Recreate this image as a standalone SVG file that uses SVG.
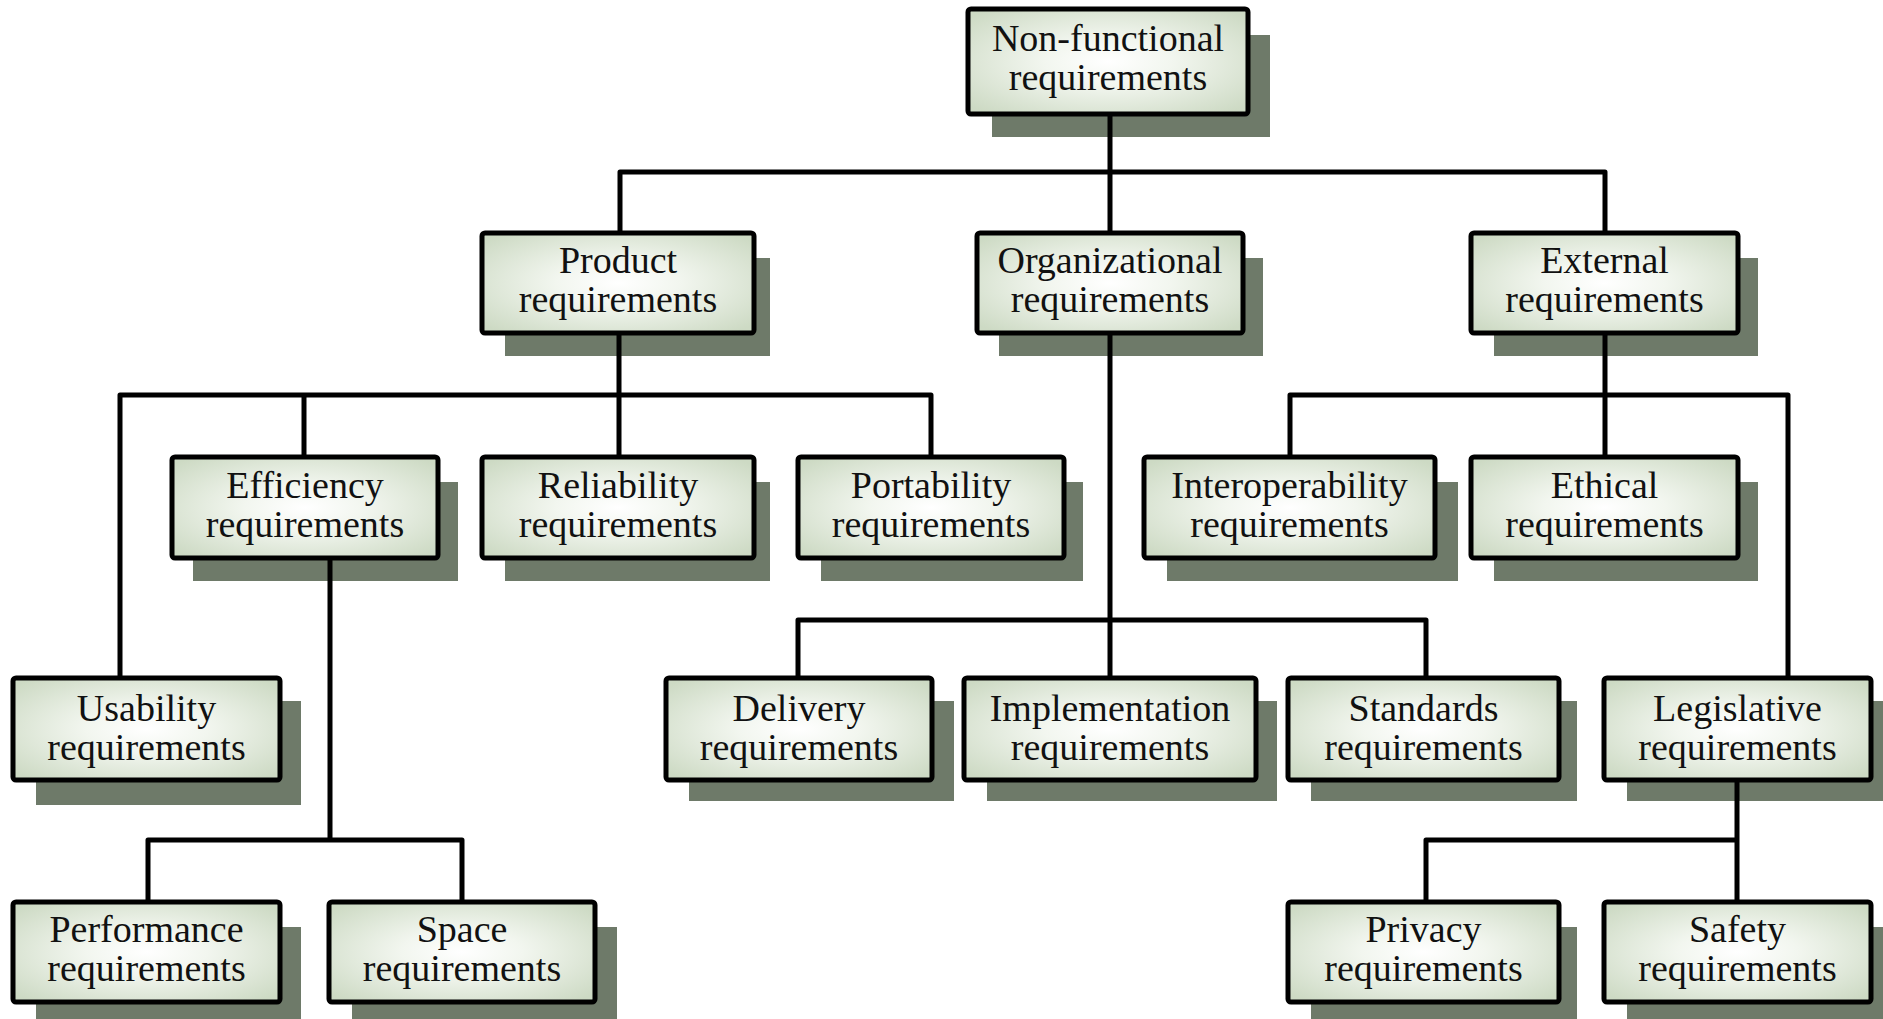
<svg xmlns="http://www.w3.org/2000/svg" width="1883" height="1019" viewBox="0 0 1883 1019">
<defs>
<radialGradient id="fill" cx="50%" cy="50%" r="65%">
<stop offset="0" stop-color="#ffffff"/>
<stop offset="0.35" stop-color="#f2f6ef"/>
<stop offset="1" stop-color="#cddac4"/>
</radialGradient>
</defs>
<style>
.sh{fill:#6e7a69;}
.bx{fill:url(#fill);stroke:#000;stroke-width:5;}
.t{font-family:"Liberation Serif","Times New Roman",serif;font-size:38px;fill:#111;text-anchor:middle;}
.c{fill:none;stroke:#000;stroke-width:5;stroke-linejoin:round;stroke-linecap:butt;}
</style>
<rect width="1883" height="1019" fill="#ffffff"/>
<g id="shadows">
<rect class="sh" x="992" y="35" width="278" height="102"/>
<rect class="sh" x="505" y="258" width="265" height="98"/>
<rect class="sh" x="999" y="258" width="264" height="98"/>
<rect class="sh" x="1494" y="258" width="264" height="98"/>
<rect class="sh" x="193" y="482" width="265" height="99"/>
<rect class="sh" x="505" y="482" width="265" height="99"/>
<rect class="sh" x="821" y="482" width="262" height="99"/>
<rect class="sh" x="1167" y="482" width="291" height="99"/>
<rect class="sh" x="1494" y="482" width="264" height="99"/>
<rect class="sh" x="36" y="701" width="265" height="104"/>
<rect class="sh" x="689" y="701" width="265" height="100"/>
<rect class="sh" x="987" y="701" width="290" height="100"/>
<rect class="sh" x="1311" y="701" width="266" height="100"/>
<rect class="sh" x="1627" y="701" width="265" height="100"/>
<rect class="sh" x="36" y="927" width="265" height="98"/>
<rect class="sh" x="352" y="927" width="265" height="98"/>
<rect class="sh" x="1311" y="927" width="266" height="98"/>
<rect class="sh" x="1627" y="927" width="265" height="98"/>
</g>
<g id="connectors">
<path class="c" d="M1110,114 V172 M620,233 V172 H1605 V233 M1110,172 V233"/>
<path class="c" d="M619,333 V395 M120,678 V395 H931 V457 M304,395 V457 M619,395 V457"/>
<path class="c" d="M330,558 V840 M148,902 V840 H462 V902"/>
<path class="c" d="M1110,333 V678 M798,678 V620 H1426 V678"/>
<path class="c" d="M1605,333 V457 M1290,457 V395 H1788 V678"/>
<path class="c" d="M1737,781 V902 M1426,902 V840 H1737"/>
</g>
<g id="n-nonfunctional">
<rect class="bx" x="968" y="9" width="280" height="105" rx="3"/>
<text class="t" x="1108" y="51">Non-functional</text>
<text class="t" x="1108" y="90">requirements</text>
</g>
<g id="n-product">
<rect class="bx" x="482" y="233" width="272" height="100" rx="3"/>
<text class="t" x="618" y="273">Product</text>
<text class="t" x="618" y="312">requirements</text>
</g>
<g id="n-organizational">
<rect class="bx" x="977" y="233" width="266" height="100" rx="3"/>
<text class="t" x="1110" y="273">Organizational</text>
<text class="t" x="1110" y="312">requirements</text>
</g>
<g id="n-external">
<rect class="bx" x="1471" y="233" width="267" height="100" rx="3"/>
<text class="t" x="1604.5" y="273">External</text>
<text class="t" x="1604.5" y="312">requirements</text>
</g>
<g id="n-efficiency">
<rect class="bx" x="172" y="457" width="266" height="101" rx="3"/>
<text class="t" x="305" y="498">Efficiency</text>
<text class="t" x="305" y="537">requirements</text>
</g>
<g id="n-reliability">
<rect class="bx" x="482" y="457" width="272" height="101" rx="3"/>
<text class="t" x="618" y="498">Reliability</text>
<text class="t" x="618" y="537">requirements</text>
</g>
<g id="n-portability">
<rect class="bx" x="798" y="457" width="266" height="101" rx="3"/>
<text class="t" x="931" y="498">Portability</text>
<text class="t" x="931" y="537">requirements</text>
</g>
<g id="n-interoperability">
<rect class="bx" x="1144" y="457" width="291" height="101" rx="3"/>
<text class="t" x="1289.5" y="498">Interoperability</text>
<text class="t" x="1289.5" y="537">requirements</text>
</g>
<g id="n-ethical">
<rect class="bx" x="1471" y="457" width="267" height="101" rx="3"/>
<text class="t" x="1604.5" y="498">Ethical</text>
<text class="t" x="1604.5" y="537">requirements</text>
</g>
<g id="n-usability">
<rect class="bx" x="13" y="678" width="267" height="102" rx="3"/>
<text class="t" x="146.5" y="721">Usability</text>
<text class="t" x="146.5" y="760">requirements</text>
</g>
<g id="n-delivery">
<rect class="bx" x="666" y="678" width="266" height="102" rx="3"/>
<text class="t" x="799" y="721">Delivery</text>
<text class="t" x="799" y="760">requirements</text>
</g>
<g id="n-implementation">
<rect class="bx" x="964" y="678" width="292" height="102" rx="3"/>
<text class="t" x="1110" y="721">Implementation</text>
<text class="t" x="1110" y="760">requirements</text>
</g>
<g id="n-standards">
<rect class="bx" x="1288" y="678" width="271" height="102" rx="3"/>
<text class="t" x="1423.5" y="721">Standards</text>
<text class="t" x="1423.5" y="760">requirements</text>
</g>
<g id="n-legislative">
<rect class="bx" x="1604" y="678" width="267" height="102" rx="3"/>
<text class="t" x="1737.5" y="721">Legislative</text>
<text class="t" x="1737.5" y="760">requirements</text>
</g>
<g id="n-performance">
<rect class="bx" x="13" y="902" width="267" height="100" rx="3"/>
<text class="t" x="146.5" y="942">Performance</text>
<text class="t" x="146.5" y="981">requirements</text>
</g>
<g id="n-space">
<rect class="bx" x="329" y="902" width="266" height="100" rx="3"/>
<text class="t" x="462" y="942">Space</text>
<text class="t" x="462" y="981">requirements</text>
</g>
<g id="n-privacy">
<rect class="bx" x="1288" y="902" width="271" height="100" rx="3"/>
<text class="t" x="1423.5" y="942">Privacy</text>
<text class="t" x="1423.5" y="981">requirements</text>
</g>
<g id="n-safety">
<rect class="bx" x="1604" y="902" width="267" height="100" rx="3"/>
<text class="t" x="1737.5" y="942">Safety</text>
<text class="t" x="1737.5" y="981">requirements</text>
</g>
</svg>
